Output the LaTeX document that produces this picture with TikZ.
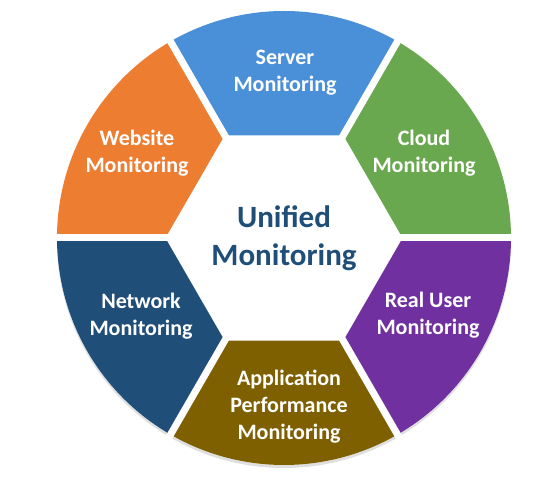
\documentclass[tikz,border=0pt]{standalone}
\usepackage{fontspec}
\setmainfont{Carlito}
\usepackage{tikz}
\usetikzlibrary{calc, positioning, shapes.geometric, shadows}

\definecolor{cloudgreen}{HTML}{6AA84F}
\definecolor{serverblue}{HTML}{4A90D9}
\definecolor{siteorange}{HTML}{ED7D31}
\definecolor{netblue}{HTML}{1F4E79}
\definecolor{appbrown}{HTML}{7F6000}
\definecolor{userpurple}{HTML}{7030A0}

\begin{document}
\begin{tikzpicture}[x=1pt, y=1pt,
    seglabel/.style={text=white, align=center, font=\bfseries\fontsize{22}{27}\selectfont},
    hub/.style={regular polygon, regular polygon sides=6, minimum size=226pt, inner sep=0pt,
                fill=white, text=netblue, align=center, font=\bfseries\fontsize{31}{38}\selectfont}]
  \useasboundingbox (0,0) rectangle (560,479);
  \coordinate (c) at (284,241);

  % ring with a soft shadow
  \fill[white, drop shadow={opacity=0.25, shadow xshift=0pt, shadow yshift=-3pt}] (c) circle (227);
  \foreach \a/\col in {0/cloudgreen, 60/serverblue, 120/siteorange, 180/netblue, 240/appbrown, 300/userpurple}
    \fill[\col] (c) -- ++(\a:227) arc[start angle=\a, end angle=\a+60, radius=227] -- cycle;

  % gaps, then the hole
  \foreach \a in {0,60,...,300}
    \draw[white, line width=7pt] (c) -- ++(\a:236);
  \node[hub] (center) at (c) {Unified\\Monitoring};

  \node[seglabel] (server) at (285,406) {Server\\Monitoring};
  \node[seglabel] (cloud) at (424,326) {Cloud\\Monitoring};
  \node[seglabel] (website) at (137,326) {Website\\Monitoring};
  \node[seglabel] (network) at (141,163) {Network\\Monitoring};
  \node[seglabel] (realuser) at (428,164) {Real User\\Monitoring};
  \node[seglabel] (app) at (289,72) {Application\\Performance\\Monitoring};
\end{tikzpicture}
\end{document}
